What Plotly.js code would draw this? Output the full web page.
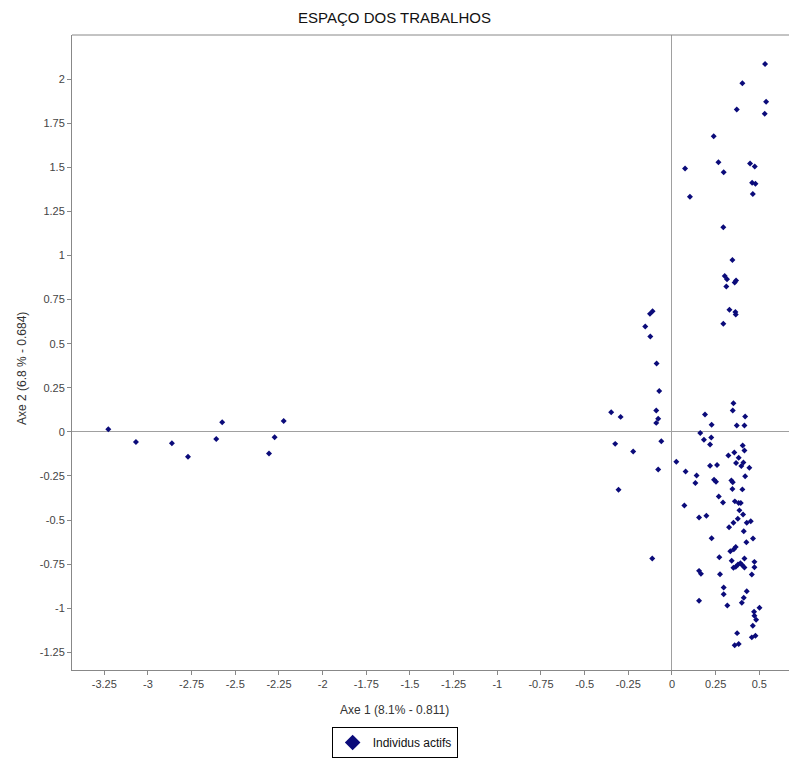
<!DOCTYPE html>
<html><head><meta charset="utf-8">
<script src="https://cdn.plot.ly/plotly-3.0.1.min.js"></script>
<style>html,body{margin:0;padding:0;background:#fff}#chart{width:789px;height:758px}</style>
</head><body><div id="chart"></div>
<script>
const chartTitle = "ESPAÇO DOS TRABALHOS";
const seriesName = "Individus actifs";
const xTitle = "Axe 1 (8.1% - 0.811)";
const yTitle = "Axe 2 (6.8 % - 0.684)";

const axe1 = [
  -3.227,-3.069,-2.863,-2.771,-2.609,-2.575,-2.307,-2.275,-2.223,
  0.533,0.403,0.539,0.371,0.531,0.239,0.266,0.075,0.296,0.447,0.474,0.459,0.478,0.463,0.103,
  0.294,0.346,0.302,0.315,0.311,0.359,0.367,0.329,0.363,0.365,0.294,
  -0.126,-0.111,-0.153,-0.124,-0.088,-0.073,-0.348,-0.294,-0.090,-0.079,-0.090,-0.325,-0.222,-0.061,-0.079,
  0.352,0.348,0.189,0.419,0.227,0.371,0.415,0.162,0.183,0.225,0.218,0.405,0.415,0.323,0.357,0.382,0.367,0.409,0.397,0.443,
  0.025,0.218,0.258,0.078,0.141,0.419,0.134,0.241,0.252,0.340,0.348,0.346,0.403,-0.306,0.268,0.292,0.360,0.382,0.394,0.071,
  0.386,0.407,0.155,0.197,0.377,0.352,0.327,0.428,0.451,0.411,0.227,0.426,0.464,0.365,0.354,0.334,-0.113,0.271,0.342,0.415,
  0.365,0.378,0.392,0.403,0.415,0.352,0.472,0.472,0.457,0.155,0.166,0.275,0.296,0.296,0.428,0.411,0.400,0.317,0.155,
  0.501,0.470,0.472,0.482,0.463,0.373,0.478,0.457,0.359,0.382
];
const axe2 = [
  0.015,-0.058,-0.064,-0.141,-0.041,0.055,-0.123,-0.030,0.062,
  2.085,1.976,1.872,1.827,1.804,1.676,1.529,1.493,1.472,1.521,1.505,1.412,1.407,1.348,1.333,
  1.160,0.975,0.884,0.865,0.824,0.847,0.858,0.692,0.680,0.666,0.613,
  0.669,0.684,0.598,0.541,0.388,0.232,0.111,0.085,0.121,0.075,0.051,-0.068,-0.111,-0.053,-0.213,
  0.162,0.121,0.098,0.087,0.040,0.036,0.036,-0.006,-0.045,-0.032,-0.072,-0.077,-0.106,-0.134,-0.117,-0.147,-0.177,-0.174,-0.194,-0.204,
  -0.170,-0.192,-0.188,-0.224,-0.247,-0.251,-0.290,-0.271,-0.283,-0.275,-0.285,-0.324,-0.326,-0.328,-0.366,-0.400,-0.394,-0.403,-0.403,-0.417,
  -0.445,-0.468,-0.486,-0.475,-0.492,-0.515,-0.541,-0.515,-0.507,-0.564,-0.603,-0.626,-0.605,-0.652,-0.666,-0.677,-0.718,-0.711,-0.731,-0.718,
  -0.765,-0.752,-0.745,-0.756,-0.769,-0.770,-0.737,-0.768,-0.809,-0.788,-0.805,-0.807,-0.882,-0.920,-0.903,-0.941,-0.969,-0.984,-0.958,
  -0.997,-1.020,-1.042,-1.065,-1.099,-1.141,-1.156,-1.165,-1.210,-1.203
];

const xTickVals = [-3.25,-3,-2.75,-2.5,-2.25,-2,-1.75,-1.5,-1.25,-1,-0.75,-0.5,-0.25,0,0.25,0.5];
const yTickVals = [-1.25,-1,-0.75,-0.5,-0.25,0,0.25,0.5,0.75,1,1.25,1.5,1.75,2];

const tickFont = {family: "Liberation Sans, Arial, sans-serif", size: 11, color: "#444"};
const axisCommon = {
  showgrid: false, zeroline: true, zerolinecolor: "#a0a0a0", zerolinewidth: 1,
  showline: true, linecolor: "#888", linewidth: 1,
  ticks: "outside", ticklen: 4, tickcolor: "#888", tickfont: tickFont
};

const trace = {
  type: "scatter", mode: "markers", name: seriesName,
  x: axe1, y: axe2,
  marker: {symbol: "diamond", size: 4.6, color: "#0b0b7a"},
  showlegend: true
};

const layout = {
  width: 789, height: 758,
  margin: {l: 72, r: 0, t: 35, b: 86},
  paper_bgcolor: "#fff", plot_bgcolor: "#fff",
  title: {text: chartTitle, xref: "container", x: 0.5, xanchor: "center",
          yref: "container", y: 0.976, yanchor: "middle",
          font: {family: "Liberation Sans, Arial, sans-serif", size: 15, color: "#111"}},
  xaxis: Object.assign({}, axisCommon, {range: [-3.435, 0.67], tickvals: xTickVals, ticktext: xTickVals.map(String)}),
  yaxis: Object.assign({}, axisCommon, {range: [-1.35, 2.25], tickvals: yTickVals, ticktext: yTickVals.map(String)}),
  showlegend: true,
  legend: {orientation: "h", x: 0.45, xanchor: "center", xref: "paper", y: -0.115, yanchor: "middle",
           bordercolor: "#000", borderwidth: 1, itemsizing: "constant",
           font: {family: "Liberation Sans, Arial, sans-serif", size: 12, color: "#111"}},
  shapes: [{type: "line", xref: "paper", yref: "paper", x0: 0, x1: 1, y0: 1, y1: 1,
            line: {color: "#888", width: 1}}],
  annotations: [
    {text: xTitle, xref: "paper", yref: "paper", x: 0.45, y: -0.063, xanchor: "center", yanchor: "middle",
     showarrow: false, font: {family: "Liberation Sans, Arial, sans-serif", size: 12, color: "#333"}},
    {text: yTitle, xref: "paper", yref: "paper", x: -0.0697, y: 0.474, xanchor: "center", yanchor: "middle",
     textangle: -90, showarrow: false, font: {family: "Liberation Sans, Arial, sans-serif", size: 12, color: "#333"}}
  ]
};

Plotly.newPlot("chart", [trace], layout, {displayModeBar: false, staticPlot: true});
</script>
</body></html>
